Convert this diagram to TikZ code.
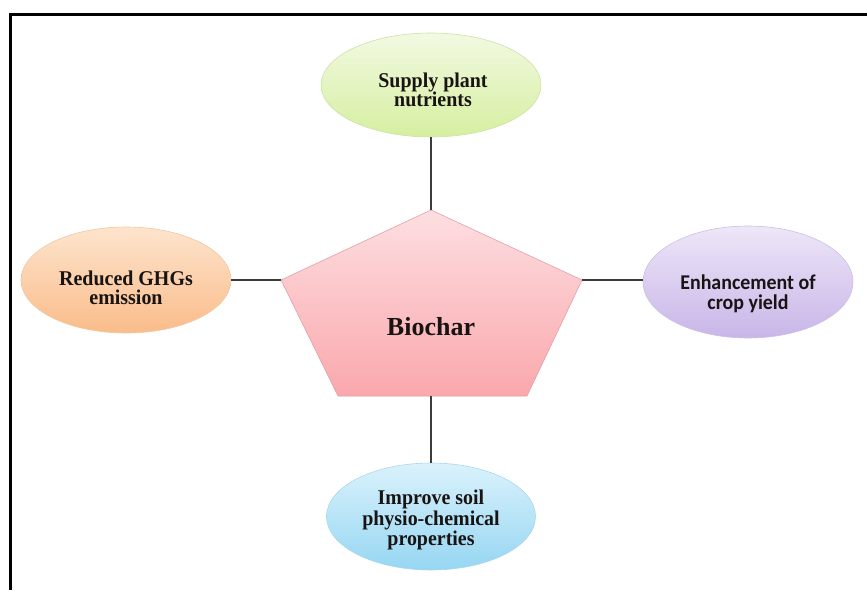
\documentclass[tikz,border=0pt]{standalone}
\usepackage{fontspec}
\setmainfont{Liberation Serif}
\newfontfamily\calfont{Carlito}
\usetikzlibrary{shapes.geometric}
\definecolor{txt}{RGB}{25,20,20}
\definecolor{link}{RGB}{60,60,60}
\tikzset{
  bubble/.style={ellipse, inner sep=0pt, line width=0.6pt},
  label/.style={align=center, text=txt, inner sep=0pt,
    font=\fontsize{21}{19.5}\selectfont\bfseries\addfontfeature{FakeStretch=0.95}},
  linkline/.style={draw=link, line width=1.1pt},
}
\begin{document}
\begin{tikzpicture}[x=1pt,y=1pt]
\useasboundingbox (0,0) rectangle (867,590);
% frame (top and left edges)
\draw[line width=2.2pt] (10.5,0) -- (10.5,575.5) -- (867,575.5);
% pentagon
\coordinate (pt) at (431,380);
\coordinate (pl) at (281,310);
\coordinate (pr) at (582,310);
\coordinate (pbl) at (338,194);
\coordinate (pbr) at (527,194);
\coordinate (pb) at (431,194);
\shade[top color={rgb,255:red,253;green,222;blue,226}, bottom color={rgb,255:red,250;green,168;blue,172}]
  (pt) -- (pr) -- (pbr) -- (pbl) -- (pl) -- cycle;
\draw[draw={rgb,255:red,225;green,160;blue,165}, line width=0.6pt]
  (pt) -- (pr) -- (pbr) -- (pbl) -- (pl) -- cycle;
\node[text=txt, font=\fontsize{26}{26}\selectfont\bfseries] (bio) at (431,263) {Biochar};
% ellipses
\node[bubble, minimum width=220pt, minimum height=104pt,
  top color={rgb,255:red,242;green,249;blue,226}, bottom color={rgb,255:red,214;green,239;blue,160},
  draw={rgb,255:red,205;green,225;blue,170}] (sup) at (431,505) {};
\node[label] (supt) at (433,500) {Supply plant\\nutrients};
\node[bubble, minimum width=210pt, minimum height=106pt,
  top color={rgb,255:red,253;green,228;blue,205}, bottom color={rgb,255:red,250;green,188;blue,138},
  draw={rgb,255:red,240;green,200;blue,160}] (ghg) at (126,310) {};
\node[label] (ghgt) at (126,302) {Reduced GHGs\\emission};
\node[bubble, minimum width=210pt, minimum height=112pt,
  top color={rgb,255:red,238;green,230;blue,248}, bottom color={rgb,255:red,200;green,182;blue,232},
  draw={rgb,255:red,205;green,190;blue,230}] (crop) at (748,308) {};
\node[label, font=\calfont\fontsize{21}{19.5}\selectfont\bfseries\addfontfeature{FakeStretch=0.95}] (cropt) at (748,296) {Enhancement of\\crop yield};
\node[bubble, minimum width=209pt, minimum height=107pt,
  top color={rgb,255:red,218;green,242;blue,252}, bottom color={rgb,255:red,150;green,214;blue,242},
  draw={rgb,255:red,170;green,215;blue,235}] (soil) at (431,73.5) {};
\node[label, font=\fontsize{21}{18.8}\selectfont\bfseries\addfontfeature{FakeStretch=0.95}] (soilt) at (431,70) {Improve soil\\physio-chemical\\properties};
% connectors
\draw[linkline] (sup.south) -- (pt);
\draw[linkline] (ghg.east |- pl) -- (pl);
\draw[linkline] (pr) -- (crop.west |- pr);
\draw[linkline] (pb) -- (soil.north);
\end{tikzpicture}
\end{document}
